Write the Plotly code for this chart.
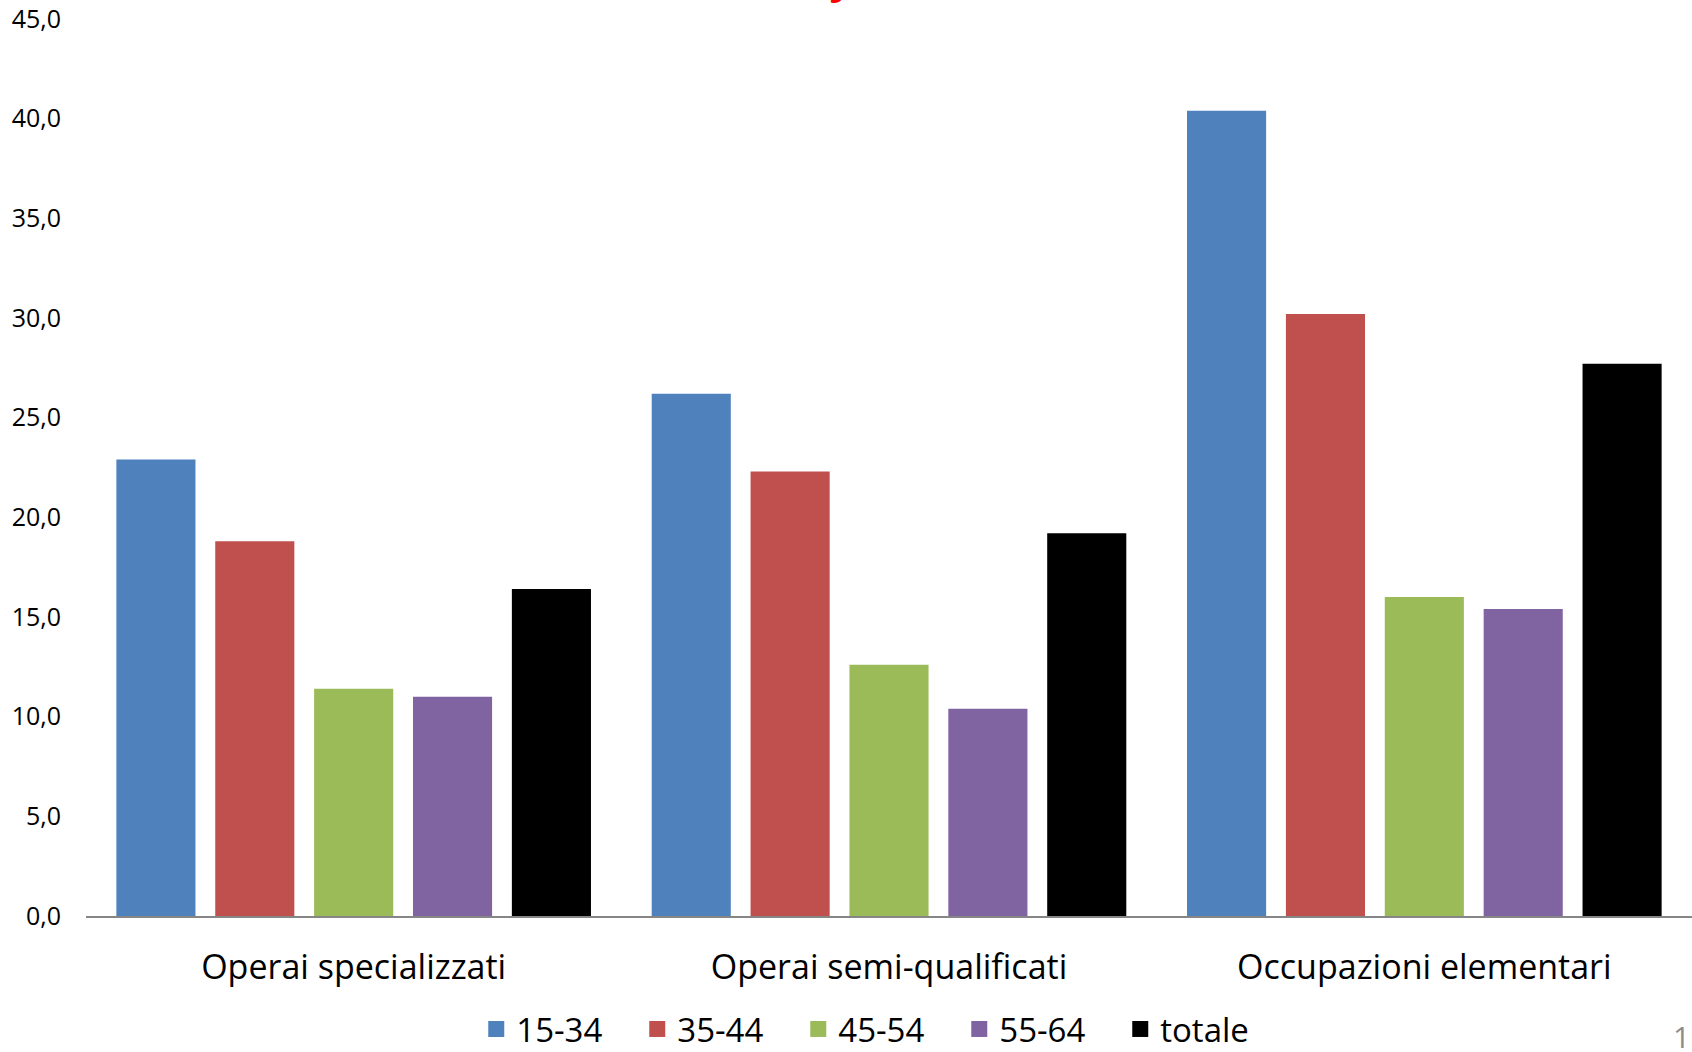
import plotly.graph_objects as go

# Occupational groups on the category axis
categories = ["Operai specializzati", "Operai semi-qualificati", "Occupazioni elementari"]

# Age-band series (percent values)
age_15_34 = [22.9, 26.2, 40.4]
age_35_44 = [18.8, 22.3, 30.2]
age_45_54 = [11.4, 12.6, 16.0]
age_55_64 = [11.0, 10.4, 15.4]
totale = [16.4, 19.2, 27.7]

series_names = ["15-34", "35-44", "45-54", "55-64", "totale"]
series_values = [age_15_34, age_35_44, age_45_54, age_55_64, totale]
series_colors = ["#4F81BD", "#C0504D", "#9BBB59", "#8064A2", "#000000"]

y_ticks = [0, 5, 10, 15, 20, 25, 30, 35, 40, 45]

FONT = "Open Sans, Noto Sans, sans-serif"

fig = go.Figure()
for name, vals, color in zip(series_names, series_values, series_colors):
    fig.add_trace(go.Bar(
        name=name,
        x=categories,
        y=vals,
        marker=dict(color=color, line=dict(width=0)),
        legendgroup=name,
        showlegend=False,
    ))

# Legend entries with larger square swatches
for name, color in zip(series_names, series_colors):
    fig.add_trace(go.Scatter(
        name=name,
        x=[None],
        y=[None],
        mode="markers",
        marker=dict(symbol="square", size=22, color=color),
        legendgroup=name,
        showlegend=True,
        hoverinfo="skip",
    ))

fig.update_layout(
    width=1692,
    height=1052,
    barmode="group",
    bargap=0.0765,
    bargroupgap=0.2,
    separators=", ",
    plot_bgcolor="white",
    paper_bgcolor="white",
    margin=dict(l=86, r=0, t=19, b=136, autoexpand=False),
    font=dict(family=FONT, color="#000000"),
    showlegend=True,
    legend=dict(
        orientation="h",
        x=0.243,
        xanchor="left",
        y=-0.126,
        yanchor="middle",
        font=dict(size=33, family=FONT, color="#000000"),
        entrywidth=116,
        itemsizing="trace",
        itemclick=False,
        tracegroupgap=0,
    ),
    xaxis=dict(
        showline=True,
        linecolor="#868686",
        linewidth=1.5,
        ticks="",
        showgrid=False,
        tickfont=dict(size=34, family=FONT, color="#000000"),
        ticklabelstandoff=20,
    ),
    yaxis=dict(
        range=[0, 45],
        tickvals=y_ticks,
        tickformat=".1f",
        showline=False,
        showgrid=False,
        zeroline=False,
        ticks="",
        tickfont=dict(size=25, family=FONT, color="#000000"),
        ticklabelstandoff=24,
    ),
    annotations=[
        # heading text running off the top edge
        dict(
            text="<b><i>y</i></b>",
            xref="paper", yref="paper",
            x=0.4726, y=1,
            xanchor="center", yanchor="bottom",
            yshift=12,
            showarrow=False,
            font=dict(size=44, color="#FF0000", family=FONT),
        ),
        # slide number
        dict(
            text="1",
            xref="paper", yref="paper",
            x=0.9868, y=-0.1338,
            xanchor="left", yanchor="middle",
            showarrow=False,
            font=dict(size=30, color="#8C8C8C", family=FONT),
        ),
    ],
)

fig.write_html("out.html")
